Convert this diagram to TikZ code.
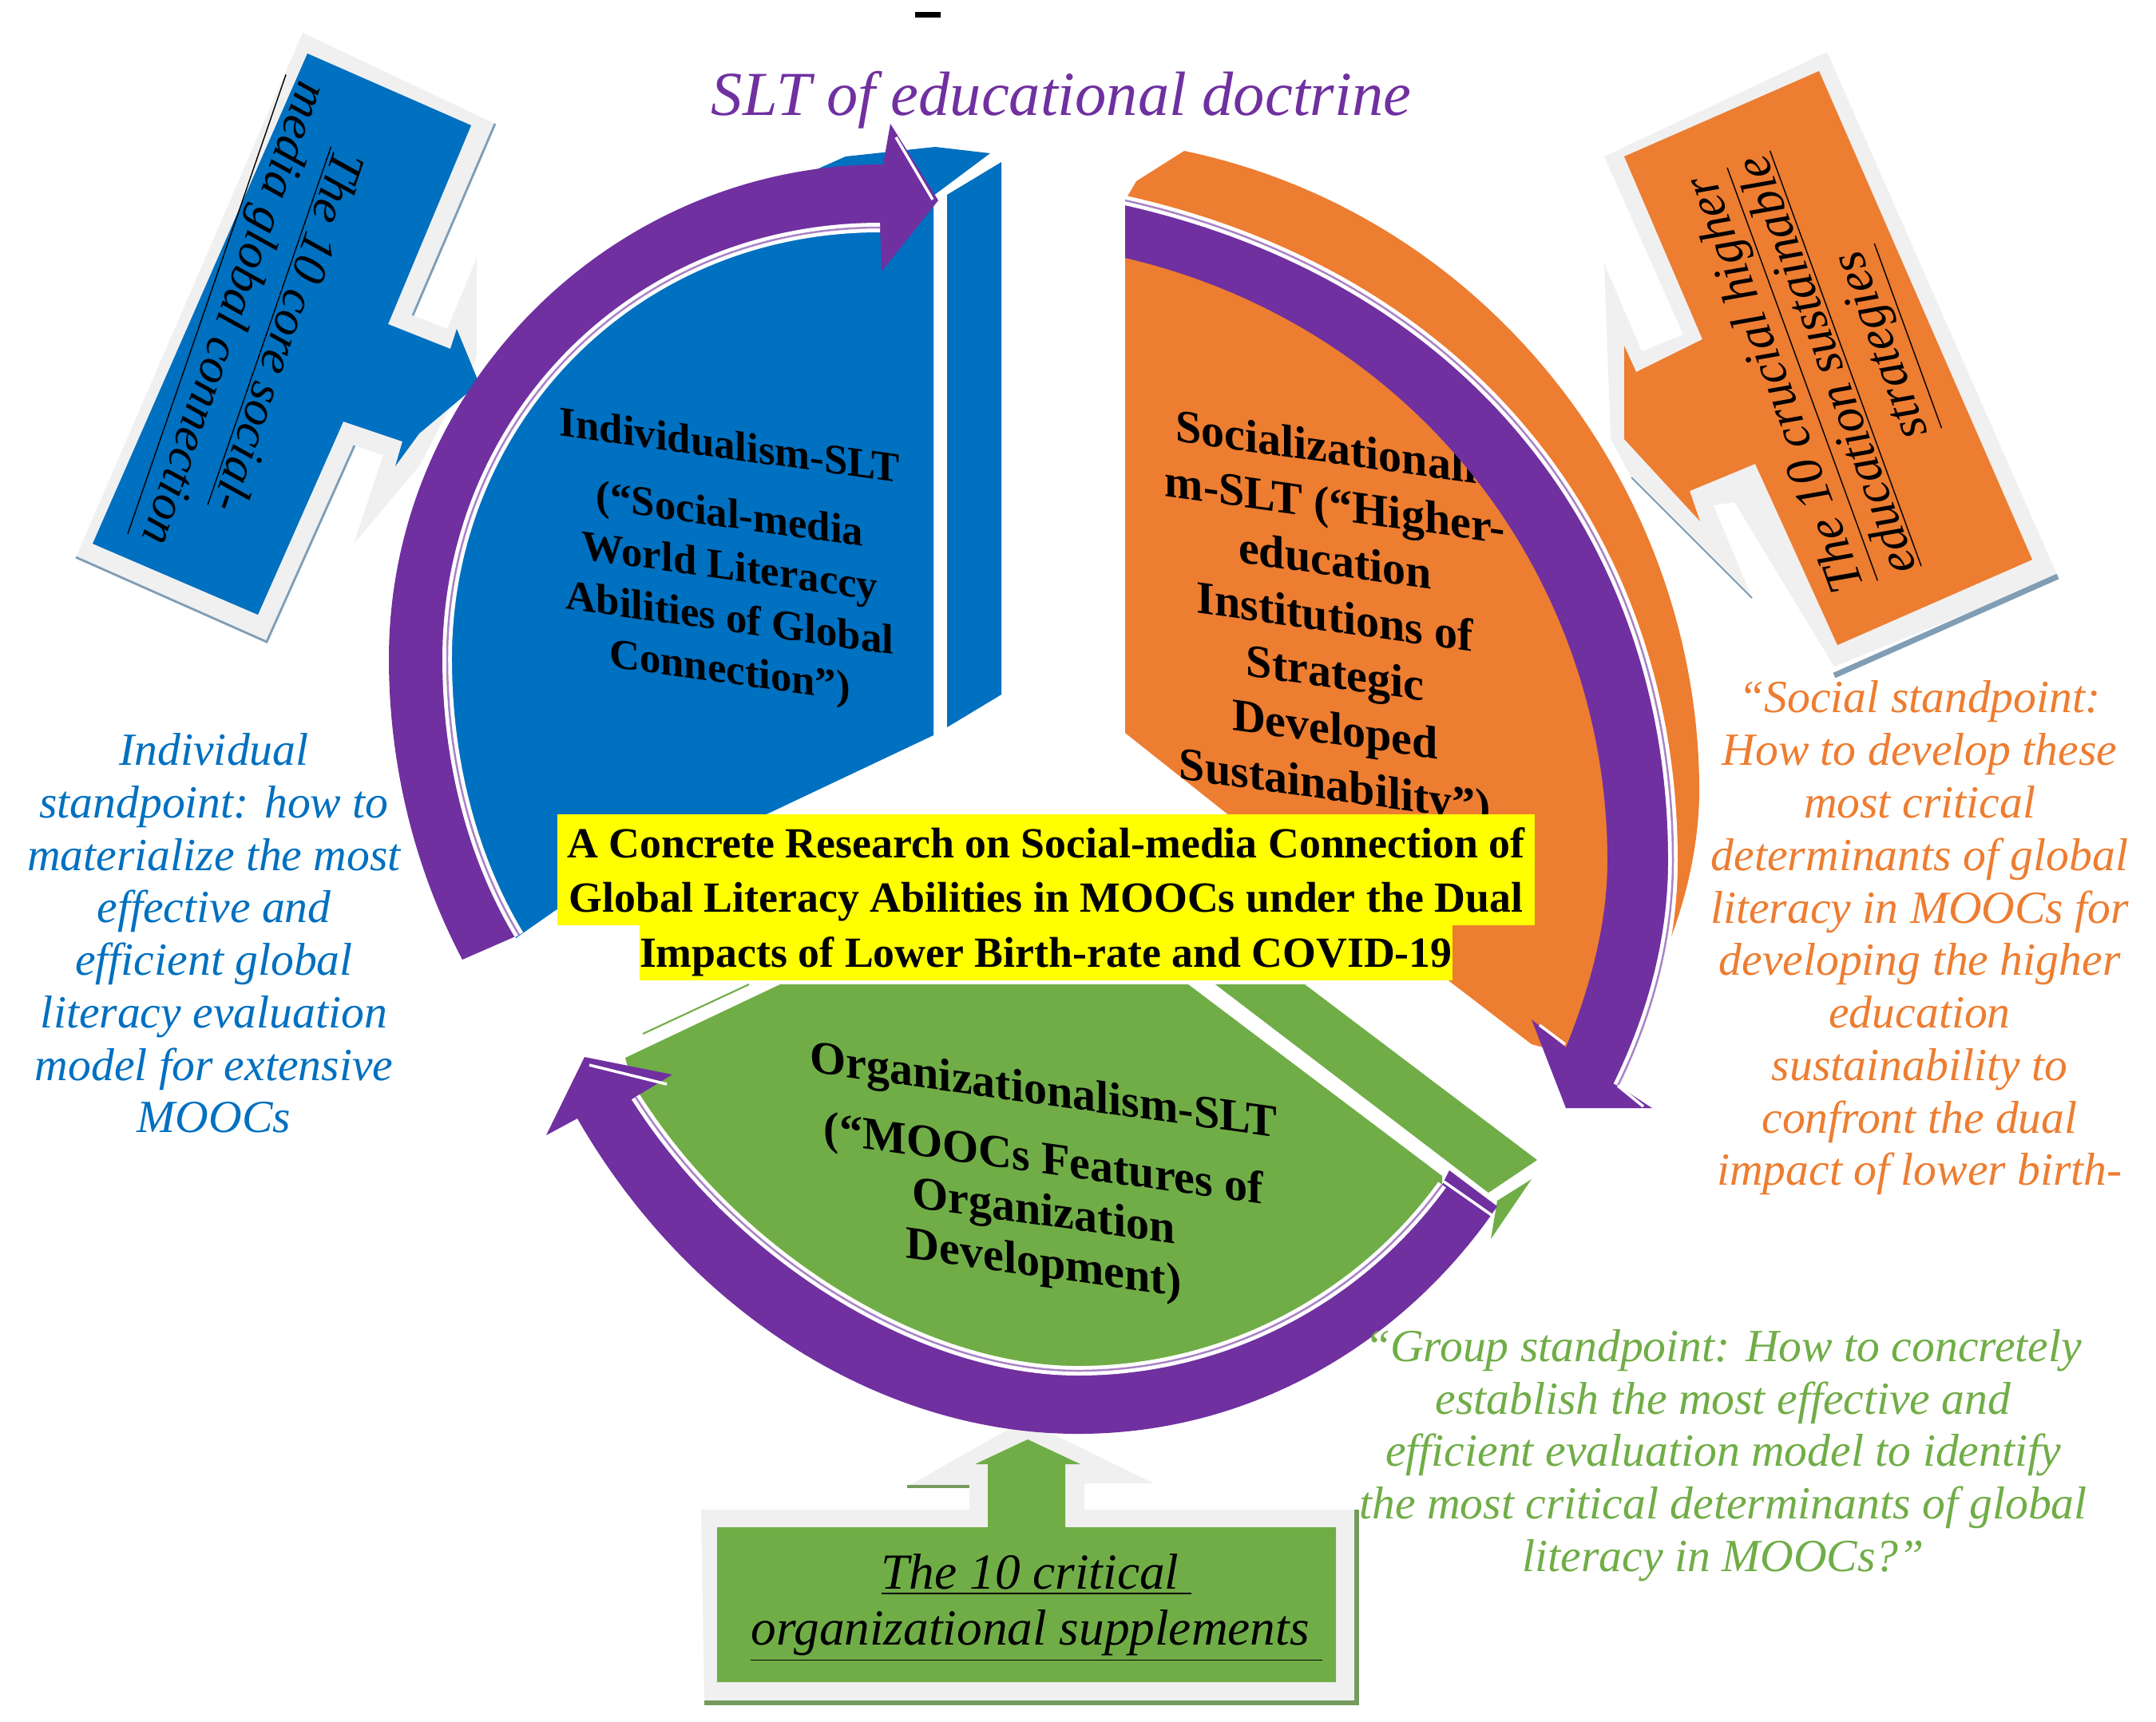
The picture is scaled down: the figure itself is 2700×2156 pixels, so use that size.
\documentclass[tikz,border=0pt]{standalone}
\usepackage{fontspec}
\usetikzlibrary{positioning}
\setmainfont{Liberation Serif}
\definecolor{slpurple}{HTML}{7030A0}
\definecolor{slblue}{HTML}{0070C0}
\definecolor{slorange}{HTML}{ED7D31}
\definecolor{slgreen}{HTML}{70AD47}
\definecolor{slyellow}{RGB}{255,255,0}
\definecolor{sllight}{HTML}{F0F0F0}
\definecolor{slshadow}{HTML}{7F9DB5}
\tikzset{
  sectortext/.style={font=\bfseries\fontsize{15}{18.5}\selectfont, align=center, inner sep=0pt, yslant=-0.14},
  calloutext/.style={font=\itshape\fontsize{18}{20}\selectfont, align=center, inner sep=0pt},
  sidetext/.style={font=\itshape\fontsize{16.4}{18.7}\selectfont, align=center, inner sep=0pt},
  bannerline/.style={font=\bfseries\fontsize{15.3}{17}\selectfont, fill=slyellow, inner xsep=0pt, outer sep=0pt, minimum height=70.5*0.01cm, text depth=0pt},
  stripewide/.style={white, line width=3.4pt},
  stripethin/.style={slpurple!60, line width=0.7pt},
  headstripe/.style={white, line width=1pt}
}
% ring curves
\def\leftoutertail{.. controls (520,1090) and (487,960) .. (487,825) .. controls (487,485) and (766,206) .. (1106,206)}
\def\leftinnertail{.. controls (790,285) and (560,530) .. (560,825) .. controls (560,960) and (595,1080) .. (650,1171)}
\def\rightoutertail{.. controls (1850,350) and (2095,680) .. (2095,1078) .. controls (2095,1175) and (2070,1270) .. (2026,1360)}
\def\rightinnertail{.. controls (1990,1240) and (2013,1160) .. (2013,1078) .. controls (2013,730) and (1780,410) .. (1409,323)}
\def\lowerinnertail{.. controls (1700,1630) and (1530,1717) .. (1350,1717) .. controls (1150,1717) and (920,1570) .. (796,1374)}
\def\lowerouterail{.. controls (860,1640) and (1100,1796) .. (1350,1796) .. controls (1570,1796) and (1760,1680) .. (1875,1511)}
\begin{document}
\begin{tikzpicture}[x=0.01cm, y=-0.01cm]
\useasboundingbox (0,0) rectangle (2700,2156);
\fill[black] (1146,15) rectangle (1178,22);
\node[font=\itshape\fontsize{22.3}{26}\selectfont, text=slpurple] (title) at (1329,125) {SLT of educational doctrine};
% blue callout
\fill[sllight] (379,41) -- (620,155) -- (517,395) -- (560,412) -- (597,323) -- (597,447) -- (525,584) -- (443,681) -- (480,570) -- (444,558) -- (334,804) -- (95,698) -- cycle;
\draw[slshadow, line width=0.8pt] (95,698) -- (334,804) -- (444,558);
\draw[slshadow, line width=0.8pt] (620,155) -- (517,395);
\fill[slblue] (385,67) -- (590,157) -- (486,406) -- (564,437) -- (572,412) -- (600,480) -- (525,543) -- (495,584) -- (504,553) -- (430,528) -- (323,770) -- (116,681) -- cycle;
\node[calloutext, font=\itshape\fontsize{17.5}{20}\selectfont, rotate=-109] (bluecall) at (320,402) {\underline{The 10 core social-}\\\underline{media global connection}};
% orange callout
\fill[sllight] (2288,65) -- (2577,722) -- (2297,835) -- (2172,629) -- (2146,633) -- (2194,749) -- (2043,598) -- (2017,550) -- (2009,330) -- (2056,440) -- (2108,419) -- (2009,196) -- cycle;
\draw[slshadow, line width=2pt] (2577,722) -- (2297,846);
\draw[slshadow, line width=0.6pt] (2043,598) -- (2194,749);
\fill[slorange] (2278,89) -- (2545,701) -- (2301,808) -- (2198,581) -- (2116,615) -- (2129,653) -- (2034,550) -- (2034,433) -- (2049,466) -- (2132,425) -- (2034,196) -- cycle;
\node[calloutext, rotate=110] (orangecall) at (2295,455) {\underline{The 10 crucial higher}\\\underline{education sustainable}\\\underline{strategies}};
% green callout
\fill[sllight] (878,1891) -- (1214,1891) -- (1214,1862) -- (1136,1862) -- (1283,1779) -- (1445,1858) -- (1358,1858) -- (1358,1891) -- (1699,1891) -- (1699,2130) -- (882,2130) -- cycle;
\draw[slgreen!60!gray, line width=1.6pt] (882,2133) -- (1699,2133) -- (1699,1891);
\draw[slgreen!60!gray, line width=1pt] (1136,1862) -- (1214,1862);
\fill[slgreen] (898,1913) -- (1237,1913) -- (1237,1834) -- (1221,1834) -- (1287,1803) -- (1353,1834) -- (1334,1834) -- (1334,1913) -- (1673,1913) -- (1673,2107) -- (898,2107) -- cycle;
\node[calloutext] (greencall) at (1298,2014) {\underline{The 10 critical }\\\underline{organizational supplements }};
% sectors
\fill[slblue] (1169,245) -- (1240,192) -- (1171,184) -- (1059,196) -- (960,240) -- (830,300) -- (720,360) -- (620,490) -- (545,670) -- (525,825) -- (570,1078) -- (646,1175) -- (696,1140) -- (964,1018) -- (1169,921) -- cycle;
\fill[slblue] (1254,203) -- (1254,870) -- (1186,911) -- (1186,244) -- cycle;
\fill[slorange] (1409,330) -- (1409,918) -- (1535,1018) -- (1802,1219) -- (1918,1308) -- (2000,1330) -- (2090,1181) .. controls (2110,1130) and (2128,1060) .. (2128,990) .. controls (2128,620) and (1870,270) .. (1483,189) -- (1423,227) -- (1409,251) -- cycle;
\fill[slgreen] (977,1233) -- (1488,1233) -- (1806,1473) -- (1806,1484) \lowerinnertail -- (783,1325) -- cycle;
\fill[slgreen] (1522,1233) -- (1634,1233) -- (1925,1453) -- (1864,1494) -- cycle;
\fill[slgreen] (1918,1477) -- (1875,1504) -- (1867,1552) -- cycle;
\draw[slgreen, line width=0.6pt] (805,1295) -- (938,1233);
% sector texts sit under the ring and the banner
\node[sectortext] (indiv) at (914,703) {Individualism-SLT\\[6pt](“Social-media\\World Literaccy\\Abilities of Global\\Connection”)};
\node[sectortext, font=\bfseries\fontsize{16.5}{20}\selectfont] (social) at (1672,778) {Socializationalis\\m-SLT (“Higher-\\education\\Institutions of\\Strategic\\Developed\\Sustainability”)};
\node[sectortext, font=\bfseries\fontsize{16.5}{18.5}\selectfont] (organ) at (1307,1478) {Organizationalism-SLT\\[6pt](“MOOCs Features of\\Organization\\Development)};
% ring
\fill[slpurple] (579,1202) \leftoutertail -- (1115,155) -- (1175,251) -- (1104,340) -- (1102,285) \leftinnertail -- cycle;
\draw[stripewide] (1102,285) \leftinnertail;
\draw[stripethin] (1102,285) \leftinnertail;
\draw[headstripe] (1122,172) -- (1168,250);
\fill[slpurple] (1409,251) \rightoutertail -- (2069,1388) -- (1961,1388) -- (1918,1277) -- (1961,1312) \rightinnertail -- cycle;
\draw[stripewide] (1409,251) \rightoutertail;
\draw[stripethin] (1409,251) \rightoutertail;
\draw[headstripe] (2026,1360) -- (2058,1386);
\draw[headstripe] (1928,1284) -- (1960,1308);
\fill[slpurple] (1815,1466) -- (1806,1484) \lowerinnertail -- (842,1346) -- (732,1324) -- (684,1422) -- (723,1401) \lowerouterail -- cycle;
\draw[stripewide] (1806,1484) \lowerinnertail;
\draw[stripethin] (1806,1484) \lowerinnertail;
\draw[headstripe] (1808,1480) -- (1868,1522);
\draw[headstripe] (738,1334) -- (835,1358);
% banner
\node[bannerline, minimum width=12.23cm, anchor=north west] (bannera) at (698,1020) {A Concrete Research on Social-media Connection of};
\node[bannerline, minimum width=12.23cm, below=-0.5pt of bannera.south west, anchor=north west] (bannerb) {Global Literacy Abilities in MOOCs under the Dual};
\node[bannerline, below=-0.5pt of bannerb.south, anchor=north] (bannerc) {Impacts of Lower Birth-rate and COVID-19};
% standpoints
\node[sidetext, text=slblue] (indivside) at (268,1169) {Individual\\standpoint: how to\\materialize the most\\effective and\\efficient global\\literacy evaluation\\model for extensive\\MOOCs};
\node[sidetext, text=slorange] (socialside) at (2404,1175) {“Social standpoint:\\How to develop these\\most critical\\determinants of global\\literacy in MOOCs for\\developing the higher\\education\\sustainability to\\confront the dual\\impact of lower birth-};
\node[sidetext, text=slgreen] (groupside) at (2158,1823) {“Group standpoint: How to concretely\\establish the most effective and\\efficient evaluation model to identify\\the most critical determinants of global\\literacy in MOOCs?”};
\end{tikzpicture}
\end{document}
